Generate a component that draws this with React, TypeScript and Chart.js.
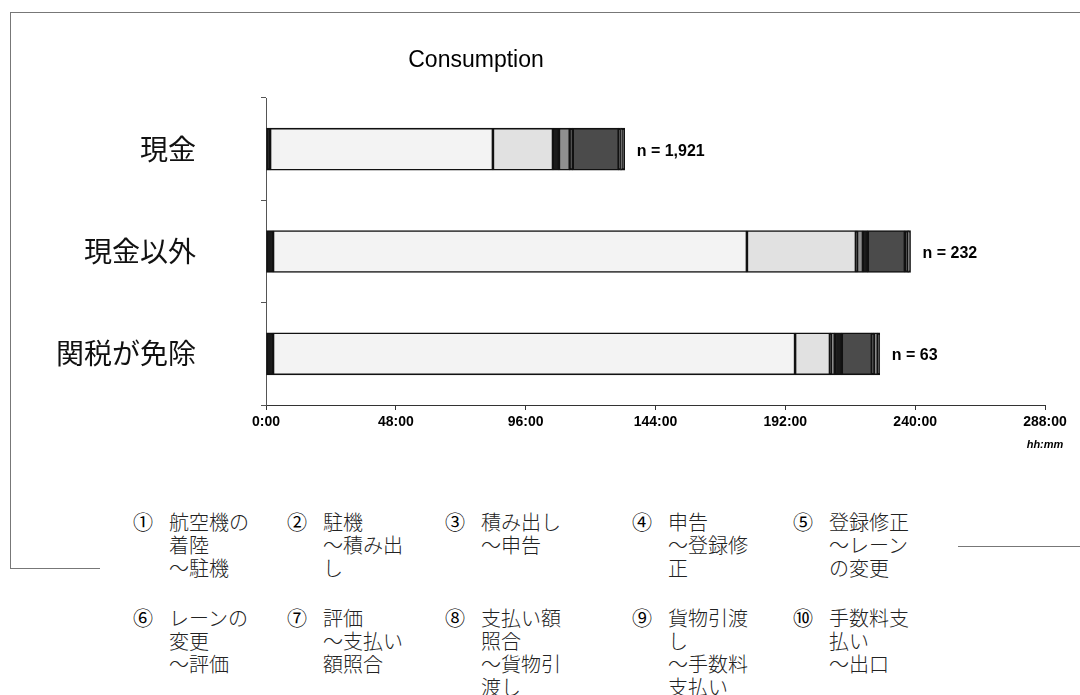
import React, { useEffect, useRef } from "react";
import { Chart, registerables } from "chart.js";

Chart.register(...registerables);

// Payment categories (one horizontal bar each)
const categories = ["現金", "現金以外", "関税が免除"];
const sampleSizes = ["n = 1,921", "n = 232", "n = 63"];

// Stage names and their circled markers
const stageMarks = ["①", "②", "③", "④", "⑤", "⑥", "⑦", "⑧", "⑨", "⑩"];
const stageNames = [
  "航空機の着陸～駐機",
  "駐機～積み出し",
  "積み出し～申告",
  "申告～登録修正",
  "登録修正～レーンの変更",
  "レーンの変更～評価",
  "評価～支払い額照合",
  "支払い額照合～貨物引渡し",
  "貨物引渡し～手数料支払い",
  "手数料支払い～出口",
];

// Mean time spent in each stage, hours (現金, 現金以外, 関税が免除)
const stage01Hours = [1.5, 2.6, 2.6];
const stage02Hours = [82.4, 175.2, 193.0];
const stage03Hours = [22.2, 40.3, 12.9];
const stage04Hours = [2.2, 0.4, 0.3];
const stage05Hours = [4.0, 2.2, 1.5];
const stage06Hours = [1.1, 1.8, 2.6];
const stage07Hours = [17.0, 13.7, 11.1];
const stage08Hours = [0.7, 1.1, 0.7];
const stage09Hours = [0.4, 0.3, 1.5];
const stage10Hours = [1.1, 0.7, 0.7];

const stageHours = [
  stage01Hours, stage02Hours, stage03Hours, stage04Hours, stage05Hours,
  stage06Hours, stage07Hours, stage08Hours, stage09Hours, stage10Hours,
];

// Axis ticks (hours)
const axisMax = 288;
const axisStep = 48;

const stageFills = [
  "#1a1a1a", "#f3f3f3", "#e1e1e1", "#1a1a1a", "#8f8f8f",
  "#1a1a1a", "#4b4b4b", "#1a1a1a", "#8f8f8f", "#1a1a1a",
];

const LATIN = "'Liberation Sans', Arial, sans-serif";
const CJK = "'Noto Sans CJK JP', 'Noto Sans', sans-serif";

// Break a stage name before "～" and then every four characters
function wrapStage(name: string): string[] {
  const out: string[] = [];
  name.split(/(?=～)/).forEach((part) => {
    const chars = Array.from(part);
    for (let i = 0; i < chars.length; i += 4) out.push(chars.slice(i, i + 4).join(""));
  });
  return out;
}

const annotations = {
  id: "annotations",
  afterDraw(chart: any) {
    const { ctx } = chart;
    ctx.save();
    // title
    ctx.fillStyle = "#000";
    ctx.font = `23px ${LATIN}`;
    ctx.textAlign = "center";
    ctx.textBaseline = "alphabetic";
    ctx.fillText("Consumption", 476, 67);

    // sample sizes at the bar ends
    const last = chart.getDatasetMeta(chart.data.datasets.length - 1);
    ctx.font = `bold 16px ${LATIN}`;
    ctx.textAlign = "left";
    ctx.textBaseline = "middle";
    last.data.forEach((bar: any, i: number) => {
      ctx.fillText(sampleSizes[i], bar.x + 12, bar.y + 2);
    });

    // unit under the axis end
    const xs = chart.scales.x;
    ctx.font = `italic bold 11px ${LATIN}`;
    ctx.textAlign = "center";
    ctx.fillText("hh:mm", xs.right, xs.bottom + 10);
    ctx.restore();
  },
};

export default function App() {
  const ref = useRef<HTMLCanvasElement>(null);

  useEffect(() => {
    if (!ref.current) return;
    const chart = new Chart(ref.current, {
      type: "bar",
      data: {
        labels: categories,
        datasets: stageHours.map((vals, i) => ({
          label: `${stageMarks[i]} ${stageNames[i]}`,
          data: vals,
          backgroundColor: stageFills[i],
          borderColor: "#111",
          borderWidth: 1.6,
          borderSkipped: false,
          barThickness: 42,
        })),
      },
      options: {
        indexAxis: "y",
        animation: false,
        responsive: false,
        layout: { padding: { left: 0, right: 35, top: 98, bottom: 260 } },
        plugins: {
          legend: { display: false },
          title: { display: false },
          tooltip: { enabled: false },
        },
        scales: {
          x: {
            stacked: true,
            min: 0,
            max: axisMax,
            afterFit: (s: any) => { s.height = 30; },
            ticks: {
              stepSize: axisStep,
              callback: (v: any) => `${v}:00`,
              color: "#000",
              font: { family: LATIN, size: 14, weight: "bold" },
              padding: 4,
              maxRotation: 0,
              autoSkip: false,
            },
            grid: { drawOnChartArea: false, drawTicks: true, tickLength: 5, color: "#333" },
            border: { display: true, color: "#333", width: 1 },
          },
          y: {
            stacked: true,
            offset: true,
            afterFit: (s: any) => { s.width = 266; },
            ticks: {
              color: "#111",
              font: { family: CJK, size: 28 },
              padding: 65,
            },
            grid: { offset: true, drawOnChartArea: false, drawTicks: true, tickLength: 5, color: "#555" },
            border: { display: true, color: "#555", width: 1 },
          },
        },
      },
      plugins: [annotations],
    });
    return () => chart.destroy();
  }, []);

  const line = "1px solid #777";
  const legendLeft = [143, 297, 455, 642, 803];
  const legendTop = [510, 606];

  return (
    <div style={{ position: "absolute", left: 0, top: 0, width: 1080, height: 695, background: "#fff", overflow: "hidden" }}>
      {/* frame */}
      <div style={{ position: "absolute", left: 10, top: 12, width: 1070, borderTop: line }} />
      <div style={{ position: "absolute", left: 10, top: 12, height: 556, borderLeft: line }} />
      <div style={{ position: "absolute", left: 10, top: 568, width: 90, borderTop: line }} />
      <div style={{ position: "absolute", left: 958, top: 546, width: 122, borderTop: line }} />
      <canvas ref={ref} width={1080} height={695} style={{ position: "absolute", left: 0, top: 0 }} />
      {/* stage key */}
      <div style={{ position: "absolute", left: 100, top: 500, width: 855, height: 195, background: "#fff" }} />
      {stageNames.map((name, i) => {
        const col = i % 5;
        const row = Math.floor(i / 5);
        return (
          <div key={i} style={{ position: "absolute", left: legendLeft[col] - 10, top: legendTop[row], fontFamily: CJK, fontSize: 20, fontWeight: 300, lineHeight: "23px", color: "#222", display: "flex" }}>
            <div style={{ width: 20, textAlign: "center", fontWeight: 400, color: "#000" }}>{stageMarks[i]}</div>
            <div style={{ marginLeft: 16 }}>
              {wrapStage(name).map((l, j) => (
                <div key={j} style={{ whiteSpace: "nowrap" }}>{l}</div>
              ))}
            </div>
          </div>
        );
      })}
    </div>
  );
}
